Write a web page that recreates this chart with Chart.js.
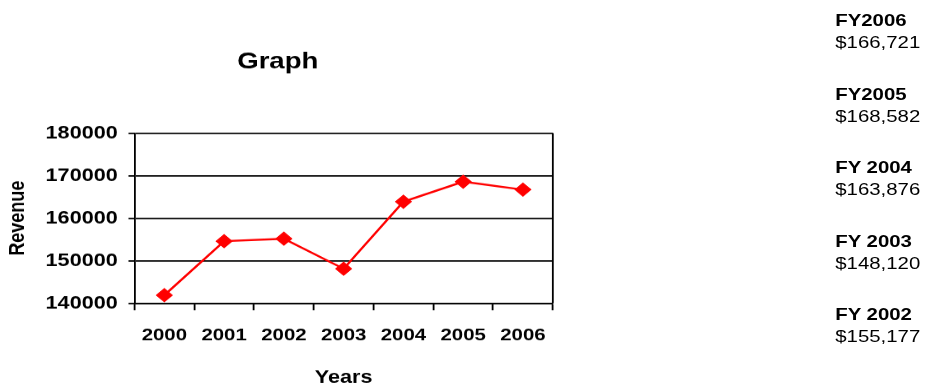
<!DOCTYPE html>
<html>
<head>
<meta charset="utf-8">
<script src="https://cdn.jsdelivr.net/npm/chart.js@4.4.1/dist/chart.umd.min.js"></script>
<style>
  html, body { margin: 0; padding: 0; background: #fff; overflow: hidden; }
  #wrap {
    position: relative;
    width: 771px;
    height: 383px;
    overflow: hidden;
    transform: scaleX(1.2);
    transform-origin: 0 0;
    font-family: "Liberation Sans", Arial, sans-serif;
  }
  #grafica { position: absolute; left: 0; top: 0; }
  .fy { position: absolute; left: 696px; font-size: 17px; line-height: 22px; color: #000; }
  .fy b { display: block; }
</style>
</head>
<body>
<div id="wrap">
  <canvas id="grafica" width="470" height="392"></canvas>
  <div id="lado"></div>
</div>
<script>
const years = ['2000', '2001', '2002', '2003', '2004', '2005', '2006'];
const revenue = [141900, 154600, 155177, 148120, 163876, 168582, 166721];
const yTicks = [140000, 150000, 160000, 170000, 180000];

const fyLabels = ['FY2006', 'FY2005', 'FY 2004', 'FY 2003', 'FY 2002'];
const fyValues = ['$166,721', '$168,582', '$163,876', '$148,120', '$155,177'];

// texto de la derecha
const lado = document.getElementById('lado');
fyLabels.forEach(function(label, i) {
  const div = document.createElement('div');
  div.className = 'fy';
  div.style.top = (10 + i * 73.6) + 'px';
  div.innerHTML = '<b>' + label + '</b>' + fyValues[i];
  lado.appendChild(div);
});

// borde derecho del area del grafico
const bordeDerecho = {
  id: 'bordeDerecho',
  afterDatasetsDraw(chart) {
    const a = chart.chartArea;
    const ctx = chart.ctx;
    ctx.save();
    ctx.strokeStyle = '#000';
    ctx.lineWidth = 1.5;
    ctx.beginPath();
    ctx.moveTo(a.right, a.top);
    ctx.lineTo(a.right, a.bottom);
    ctx.stroke();
    ctx.restore();
  }
};

const fuente = "'Liberation Sans', Arial, sans-serif";

new Chart(document.getElementById('grafica'), {
  type: 'line',
  data: {
    labels: years,
    datasets: [{
      data: revenue,
      borderColor: '#ff0000',
      backgroundColor: '#ff0000',
      borderWidth: 2,
      pointStyle: 'rectRot',
      pointRadius: 6.5,
      pointBorderWidth: 1,
      tension: 0,
      fill: false
    }]
  },
  options: {
    responsive: false,
    animation: false,
    devicePixelRatio: 1.2,
    layout: { autoPadding: false, padding: { left: 0, right: 7, top: 0, bottom: 0 } },
    plugins: {
      legend: { display: false },
      tooltip: { enabled: false },
      title: {
        display: true,
        text: 'Graph',
        color: '#000',
        font: { family: fuente, size: 23, weight: 'bold' },
        padding: { top: 48, bottom: 57.4 }
      }
    },
    scales: {
      x: {
        offset: true,
        grid: {
          offset: true,
          drawOnChartArea: false,
          tickLength: 7,
          tickColor: '#000',
          tickWidth: 1.5
        },
        border: { color: '#000', width: 1.5 },
        ticks: {
          color: '#000',
          padding: 14.8,
          maxRotation: 0,
          font: { family: fuente, size: 17, weight: 'bold' }
        },
        title: {
          display: true,
          text: 'Years',
          color: '#000',
          font: { family: fuente, size: 18, weight: 'bold' },
          padding: { top: 6.4, bottom: 4 }
        }
      },
      y: {
        min: 140000,
        max: 180000,
        afterBuildTicks: function(axis) {
          axis.ticks = yTicks.map(function(v) { return { value: v }; });
        },
        grid: {
          color: '#000',
          lineWidth: 1.5,
          tickLength: 5,
          tickColor: '#000'
        },
        border: { color: '#000', width: 1.5 },
        ticks: {
          color: '#000',
          padding: 9,
          font: { family: fuente, size: 18, weight: 'bold' },
          callback: function(value) { return String(value); }
        },
        title: {
          display: true,
          text: 'Revenue',
          color: '#000',
          font: { family: fuente, size: 18, weight: 'bold' },
          padding: { top: 4, bottom: 3.4 }
        }
      }
    }
  },
  plugins: [bordeDerecho]
});
</script>
</body>
</html>
